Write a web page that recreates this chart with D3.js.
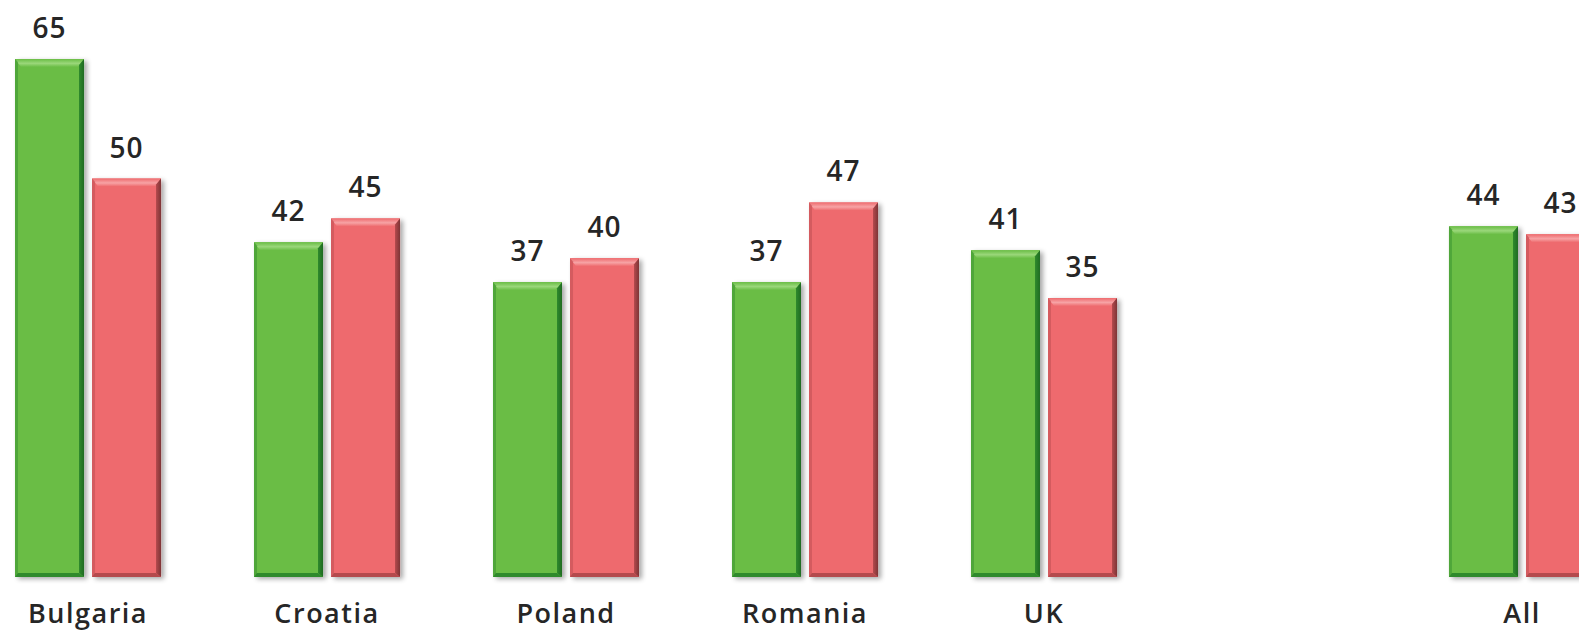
<!DOCTYPE html>
<html>
<head>
<meta charset="utf-8">
<script src="https://cdn.jsdelivr.net/npm/d3@7"></script>
<style>
  html, body { margin: 0; padding: 0; background: #ffffff; overflow: hidden; }
  svg { display: block; }
  text { font-family: "Open Sans", "Noto Sans", sans-serif; fill: #262626; font-weight: 600; }
</style>
</head>
<body>
<svg id="chart" width="1579" height="633"></svg>
<script>
// Category slots (one empty slot separates the countries from the total)
const categories = ["Bulgaria", "Croatia", "Poland", "Romania", "UK", "", "All"];
const seriesKeys = ["green", "red"];
const greenValues = [65, 42, 37, 37, 41, null, 44];
const redValues   = [50, 45, 40, 47, 35, null, 43];

const palette = {
  green: { base: "#6abd45", light: "#9ad77a", dark: "#2f8a2c", side: "#1f6b22" },
  red:   { base: "#ee6b6e", light: "#f7a3a5", dark: "#b44a4d", side: "#7e3436" }
};

const svg = d3.select("#chart");

const x0 = d3.scaleBand()
  .domain(categories.map((c, i) => i))
  .range([15, 1595])
  .paddingInner(0.389)
  .paddingOuter(0);

const x1 = d3.scaleBand()
  .domain(seriesKeys)
  .range([0, x0.bandwidth()])
  .paddingInner(0.104)
  .paddingOuter(0);

const y = d3.scaleLinear().domain([0, 65]).range([577, 59]);

const defs = svg.append("defs");
const shadow = defs.append("filter").attr("id", "shadow")
  .attr("x", "-20%").attr("y", "-10%").attr("width", "140%").attr("height", "120%");
shadow.append("feGaussianBlur").attr("in", "SourceAlpha").attr("stdDeviation", 2.5);
shadow.append("feOffset").attr("dx", 3).attr("dy", 2).attr("result", "b");
shadow.append("feComponentTransfer").append("feFuncA").attr("type", "linear").attr("slope", 0.35);
const merge = shadow.append("feMerge");
merge.append("feMergeNode");
merge.append("feMergeNode").attr("in", "SourceGraphic");

seriesKeys.forEach(k => {
  const p = palette[k];
  const gTop = defs.append("linearGradient").attr("id", "top-" + k)
    .attr("x1", 0).attr("y1", 0).attr("x2", 0).attr("y2", 1);
  gTop.append("stop").attr("offset", "0%").attr("stop-color", p.base);
  gTop.append("stop").attr("offset", "55%").attr("stop-color", p.light);
  gTop.append("stop").attr("offset", "100%").attr("stop-color", p.base);
  const gRight = defs.append("linearGradient").attr("id", "right-" + k)
    .attr("x1", 0).attr("y1", 0).attr("x2", 1).attr("y2", 0);
  gRight.append("stop").attr("offset", "0%").attr("stop-color", p.dark);
  gRight.append("stop").attr("offset", "100%").attr("stop-color", p.side);
});

const rows = categories.map((c, i) => ({
  i, name: c, green: greenValues[i], red: redValues[i]
}));

const bevel = 6;
const groups = svg.append("g").selectAll("g")
  .data(rows.filter(d => d.green != null))
  .join("g")
  .attr("transform", d => `translate(${x0(d.i)},0)`);

const bars = groups.selectAll("g.bar")
  .data(d => seriesKeys.map(k => ({ key: k, value: d[k] })))
  .join("g").attr("class", "bar");

bars.each(function(d) {
  const g = d3.select(this);
  const p = palette[d.key];
  const xl = x1(d.key), xr = xl + x1.bandwidth();
  const yt = y(d.value), yb = y(0);
  const b = bevel;
  g.append("rect")
    .attr("x", xl).attr("y", yt).attr("width", xr - xl).attr("height", yb - yt)
    .attr("fill", p.base).attr("filter", "url(#shadow)");
  // top face
  g.append("path")
    .attr("d", `M${xl},${yt}L${xr},${yt}L${xr - b},${yt + b + 2}L${xl + b},${yt + b + 2}Z`)
    .attr("fill", `url(#top-${d.key})`);
  // left edge
  g.append("path")
    .attr("d", `M${xl},${yt}L${xl + 3},${yt + 3}L${xl + 3},${yb - 3}L${xl},${yb}Z`)
    .attr("fill", p.dark).attr("opacity", 0.45);
  // right edge
  g.append("path")
    .attr("d", `M${xr},${yt}L${xr - 5},${yt + b}L${xr - 5},${yb - 4}L${xr},${yb}Z`)
    .attr("fill", `url(#right-${d.key})`);
  // bottom edge
  g.append("path")
    .attr("d", `M${xl},${yb}L${xl + 3},${yb - 4}L${xr - 5},${yb - 4}L${xr},${yb}Z`)
    .attr("fill", p.dark);
  // value label
  g.append("text")
    .attr("x", (xl + xr) / 2).attr("y", yt - 21)
    .attr("text-anchor", "middle")
    .attr("font-size", 28)
    .attr("letter-spacing", "1px")
    .text(d.value);
});

// category labels
svg.append("g").selectAll("text")
  .data(rows.filter(d => d.name))
  .join("text")
  .attr("x", d => x0(d.i) + x0.bandwidth() / 2)
  .attr("y", 623)
  .attr("text-anchor", "middle")
  .attr("font-size", 27)
  .attr("letter-spacing", "1.5px")
  .text(d => d.name);
</script>
</body>
</html>
